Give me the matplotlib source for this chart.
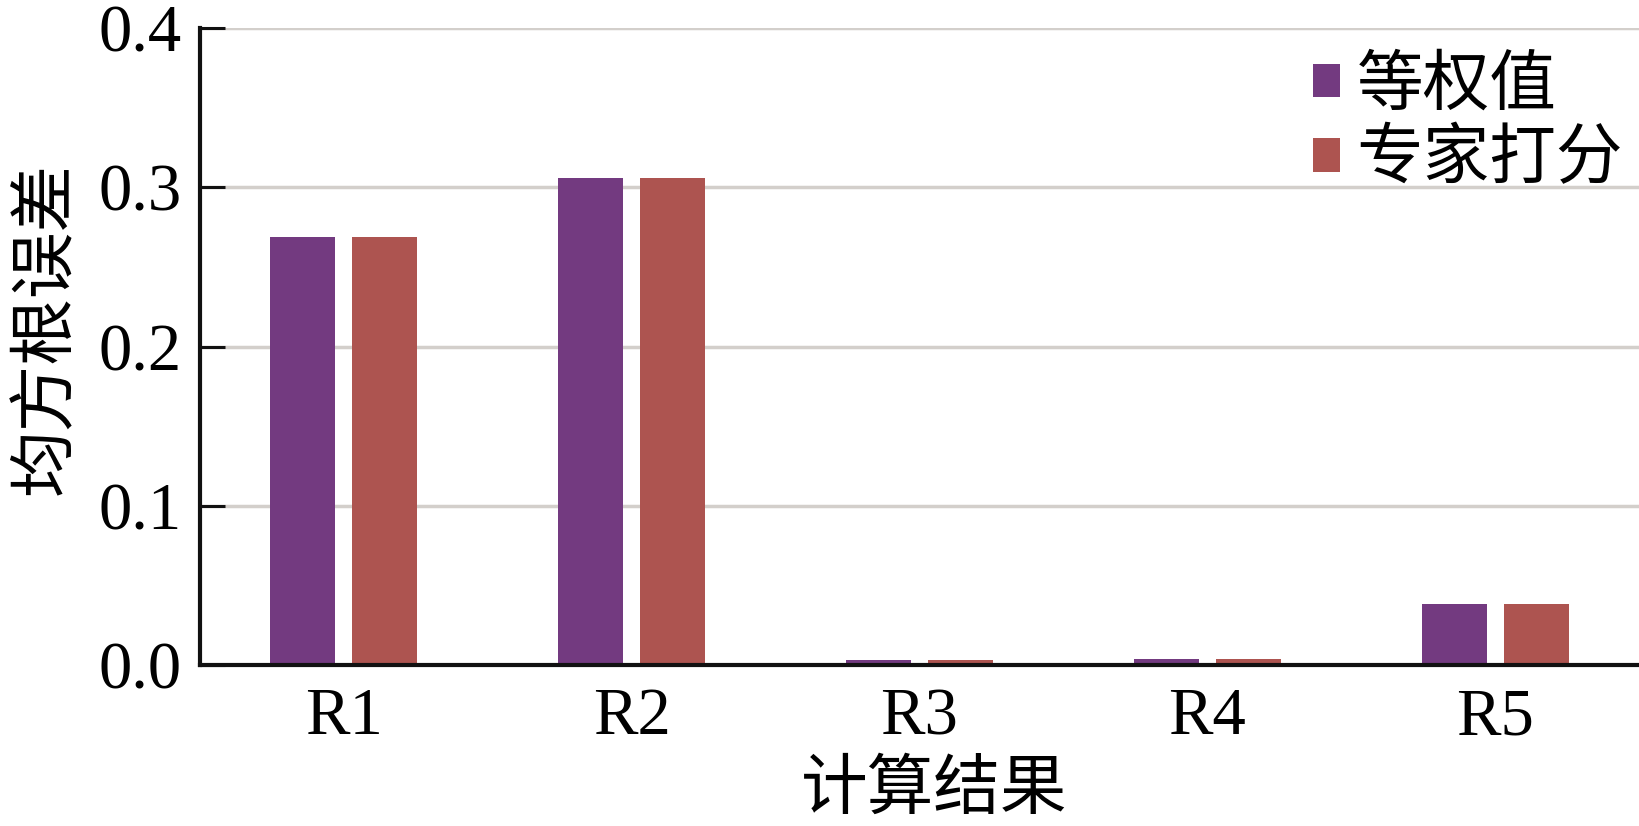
import matplotlib
matplotlib.use("Agg")
import matplotlib.pyplot as plt
import numpy as np

categories = ["R1", "R2", "R3", "R4", "R5"]
series_names = ["等权值", "专家打分"]
equal_weight = [0.269, 0.306, 0.003, 0.0035, 0.038]
expert_score = [0.269, 0.306, 0.003, 0.0035, 0.038]
yticks = [0.0, 0.1, 0.2, 0.3, 0.4]
colors = ["#733A80", "#AD5450"]

serif = ["Liberation Serif", "DejaVu Serif"]
cjk = ["Noto Sans CJK SC", "DejaVu Sans"]

fig = plt.figure(figsize=(16.39, 8.26), dpi=100)
ax = fig.add_axes([0.122, 0.195, 0.878, 0.771])

x = np.arange(len(categories))
w = 0.226
off = 0.1425
ax.bar(x - off, equal_weight, w, color=colors[0], label=series_names[0], zorder=3)
ax.bar(x + off, expert_score, w, color=colors[1], label=series_names[1], zorder=3)

ax.set_xlim(-0.5, 4.5)
ax.set_ylim(0, 0.4)
ax.set_yticks(yticks)
ax.set_yticklabels([f"{v:.1f}" for v in yticks], fontfamily=serif, fontsize=48)
ax.set_xticks(x)
ax.set_xticklabels(categories, fontfamily=serif, fontsize=48)

ax.yaxis.grid(True, color="#D3CFCB", linewidth=2.5, zorder=0)
ax.set_axisbelow(True)
ax.tick_params(axis="y", direction="in", length=18, width=2.2, color="#111111", pad=13)
ax.tick_params(axis="x", length=0, pad=16)

for s in ["top", "right"]:
    ax.spines[s].set_visible(False)
for s in ["left", "bottom"]:
    ax.spines[s].set_linewidth(3)
    ax.spines[s].set_color("#111111")
    ax.spines[s].set_zorder(4)

ax.set_ylabel("均方根误差", fontfamily=cjk, fontsize=48, va="center")
ax.yaxis.set_label_coords(-0.107, 0.529)
ax.set_xlabel("计算结果", fontfamily=cjk, fontsize=48)
ax.xaxis.set_label_coords(0.51, -0.143)
ax.xaxis.label.set_va("top")

leg = ax.legend(prop={"family": cjk, "size": 48}, loc="upper right",
                bbox_to_anchor=(1.012, 1.015), frameon=False,
                handlelength=0.4, handleheight=0.4, handletextpad=0.25,
                labelspacing=0.1, borderaxespad=0.1)

fig.savefig("out.png", dpi=100)
